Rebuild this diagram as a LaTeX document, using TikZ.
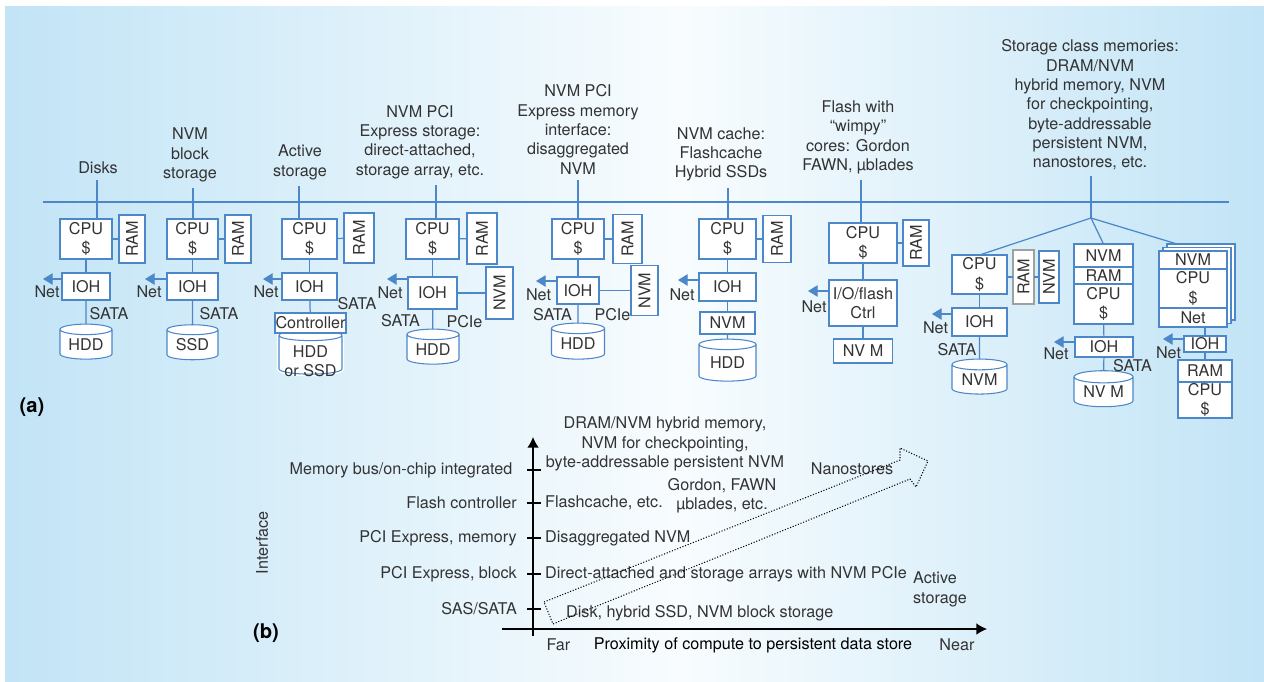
\documentclass[tikz,border=0pt]{standalone}
\usepackage{fontspec}
\setmainfont{TeX Gyre Heros}
\usepackage{graphicx}
\definecolor{LineBlue}{HTML}{4C87C9}
\definecolor{BgBlue}{HTML}{C2E4F6}
\definecolor{BgWhite}{HTML}{F8FCFE}
\definecolor{TextGray}{HTML}{333333}
\definecolor{BoxGray}{HTML}{A0A0A0}
\usetikzlibrary{arrows.meta,positioning,shapes.geometric}

\begin{document}
\begin{tikzpicture}[x=0.02cm, y=-0.02cm, node distance=0pt,
    every node/.style={font=\fontsize{9.2}{11}\selectfont, text=TextGray, align=center},
    boxsize/.style 2 args={minimum width=#1*0.02cm, minimum height=#2*0.02cm},
    box/.style={draw=LineBlue, fill=white, line width=0.6pt, inner sep=0pt, outer sep=0pt},
    disk/.style={box, cylinder, shape border rotate=90, aspect=0.3},
    wire/.style={draw=LineBlue, line width=0.7pt},
    netarrow/.style={wire, -{Triangle[length=5.5pt, width=6.5pt]}},
    axis/.style={draw=black, line width=0.7pt, -{Latex[length=6pt, width=6.5pt]}},
    axtick/.style={draw=black, line width=0.7pt},
    partlabel/.style={font=\fontsize{11.5}{13}\selectfont\bfseries, text=black}]
    \useasboundingbox (0,0) rectangle (1264,681);
    \fill[left color=BgBlue, right color=BgWhite] (5,6) rectangle (681,681);
    \fill[left color=BgWhite, right color=BgBlue] (680,6) rectangle (1264,681);

    % shared bus
    \coordinate (busw) at (43,202);
    \coordinate (buse) at (1229,202);
    \draw[wire] (busw) -- (buse);
    \coordinate (t1) at (97,202);
    \coordinate (t2) at (193,202);
    \coordinate (t3) at (299,202);
    \coordinate (t4) at (436,202);
    \coordinate (t5) at (578,202);
    \coordinate (t6) at (728,202);
    \coordinate (t7) at (861,202);
    \coordinate (t8) at (1091,202);

    \node (lab1) at (98,168) {Disks};
    \node (lab2) at (190,155) {NVM\\block\\storage};
    \node (lab3) at (300,162.5) {Active\\storage};
    \node (lab4) at (420,142) {NVM PCI\\Express storage:\\direct-attached,\\storage array, etc.};
    \node (lab5) at (578,129.5) {NVM PCI\\Express memory\\interface:\\disaggregated\\NVM};
    \node (lab6) at (721,154.5) {NVM cache:\\Flashcache\\Hybrid SSDs};
    \node (lab7) at (858,137.5) {Flash with\\“wimpy”\\cores: Gordon\\FAWN, µblades};
    \node (lab8) at (1090,105) {Storage class memories:\\DRAM/NVM\\hybrid memory, NVM\\for checkpointing,\\byte-addressable\\persistent NVM,\\nanostores, etc.};

    % disks
    \node[box, boxsize={52}{40}] (cpu1) at (86,239) {CPU\\\$};
    \node[box, boxsize={26}{48}] (ram1) at (132,239) {\rotatebox{90}{RAM}};
    \node[box, boxsize={48}{27}] (ioh1) at (86,286.5) {IOH};
    \node[disk, boxsize={52}{35}] (hdd1) at (86,344.5) {HDD};
    \coordinate (net1) at (43,279);
    \node (netl1) at (47,292) {Net};
    \node (sata1) at (109,314) {SATA};
    \draw[wire] (lab1.south -| t1) -- (t1 |- cpu1.north);
    \draw[wire] (cpu1) -- (ram1);
    \draw[wire] (cpu1) -- (ioh1);
    \draw[wire] (ioh1) -- (hdd1);
    \draw[netarrow] (ioh1.west |- net1) -- (net1);

    % NVM block storage
    \node[box, boxsize={51}{40}] (cpu2) at (192.5,239) {CPU\\\$};
    \node[box, boxsize={26}{48}] (ram2) at (238,239) {\rotatebox{90}{RAM}};
    \node[box, boxsize={51}{27}] (ioh2) at (192.5,286.5) {IOH};
    \node[disk, boxsize={51}{35}] (ssd2) at (192.5,345) {SSD};
    \coordinate (net2) at (145,279);
    \node (netl2) at (149,292) {Net};
    \node (sata2) at (219,314) {SATA};
    \draw[wire] (lab2.south -| t2) -- (t2 |- cpu2.north);
    \draw[wire] (cpu2) -- (ram2);
    \draw[wire] (cpu2) -- (ioh2);
    \draw[wire] (ioh2) -- (ssd2);
    \draw[netarrow] (ioh2.west |- net2) -- (net2);

    % active storage
    \node[box, boxsize={55}{40}] (cpu3) at (309.5,239) {CPU\\\$};
    \node[box, boxsize={30}{50}] (ram3) at (359,238) {\rotatebox{90}{RAM}};
    \node[box, boxsize={55}{27}] (ioh3) at (309.5,286.5) {IOH};
    \node[disk, boxsize={63}{44}, preaction={draw=white, line width=2.5pt}] (disk3) at (310.5,355) {\phantom{HDD}};
    \node (disk3txt) at (310.5,361.5) {HDD\\or SSD};
    \node[box, boxsize={71}{20}] (ctrl3) at (310.5,323) {Controller};
    \coordinate (net3) at (263,279);
    \node (netl3) at (266,292) {Net};
    \node (sata3) at (357,304) {SATA};
    \draw[wire] (lab3.south -| t3) -- (t3 |- cpu3.north);
    \draw[wire] (cpu3) -- (ram3);
    \draw[wire] (cpu3) -- (ioh3);
    \draw[wire] (ioh3) -- (ctrl3);
    \draw[netarrow] (ioh3.west |- net3) -- (net3);

    % NVM PCIe storage
    \node[box, boxsize={53}{40}] (cpu4) at (432.5,239) {CPU\\\$};
    \node[box, boxsize={30}{51}] (ram4) at (482,238.5) {\rotatebox{90}{RAM}};
    \node[box, boxsize={27}{52}] (nvm4) at (499.5,293) {\rotatebox{90}{NVM}};
    \node[box, boxsize={49}{32}] (ioh4) at (432.5,293) {IOH};
    \node[disk, boxsize={52}{35}] (hdd4) at (433,349.5) {HDD};
    \coordinate (net4) at (387,279);
    \node (netl4) at (390,293) {Net};
    \node (sata4) at (400.5,321) {SATA};
    \node (pcie4) at (464.5,322) {PCIe};
    \draw[wire] (lab4.south -| t4) -- (t4 |- cpu4.north);
    \draw[wire] (cpu4) -- (ram4);
    \draw[wire] (cpu4) -- (ioh4);
    \draw[wire] (ioh4) -- (nvm4);
    \draw[wire] (ioh4) -- (hdd4);
    \draw[netarrow] (ioh4.west |- net4) -- (net4);

    % NVM PCIe memory
    \node[box, boxsize={52}{40}] (cpu5) at (578,239) {CPU\\\$};
    \node[box, boxsize={29}{49}] (ram5) at (627.5,239) {\rotatebox{90}{RAM}};
    \node[box, boxsize={27}{50}] (nvm5) at (644.5,290.5) {\rotatebox{90}{NVM}};
    \node[box, boxsize={42}{27}] (ioh5) at (578,290.5) {IOH};
    \node[disk, boxsize={53}{36}] (hdd5) at (578,344) {HDD};
    \coordinate (net5) at (536,281);
    \node (netl5) at (538.5,295) {Net};
    \node (sata5) at (552.5,315) {SATA};
    \node (pcie5) at (612.5,315) {PCIe};
    \draw[wire] (lab5.south -| t5) -- (t5 |- cpu5.north);
    \draw[wire] (cpu5) -- (ram5);
    \draw[wire] (cpu5) -- (ioh5);
    \draw[wire] (ioh5) -- (nvm5);
    \draw[wire] (ioh5) -- (hdd5);
    \draw[netarrow] (ioh5.west |- net5) -- (net5);

    % NVM cache
    \node[box, boxsize={57}{40}] (cpu6) at (727.5,239) {CPU\\\$};
    \node[box, boxsize={28}{47}] (ram6) at (777,239) {\rotatebox{90}{RAM}};
    \node[box, boxsize={57}{28}] (ioh6) at (727.5,287) {IOH};
    \node[box, boxsize={55}{22}] (nvm6) at (727.5,323) {NVM};
    \node[disk, boxsize={57}{42}] (hdd6) at (727.5,363) {HDD};
    \coordinate (net6) at (678,280);
    \node (netl6) at (682,295) {Net};
    \draw[wire] (lab6.south -| t6) -- (t6 |- cpu6.north);
    \draw[wire] (cpu6) -- (ram6);
    \draw[wire] (cpu6) -- (ioh6);
    \draw[wire] (ioh6) -- (nvm6);
    \draw[wire] (nvm6) -- (hdd6);
    \draw[netarrow] (ioh6.west |- net6) -- (net6);

    % wimpy cores
    \node[box, boxsize={68}{40}] (cpu7) at (863,243) {CPU\\\$};
    \node[box, boxsize={26}{46}] (ram7) at (916,243) {\rotatebox{90}{RAM}};
    \node[box, boxsize={68}{46}] (ctrl7) at (863,303) {I/O/flash\\Ctrl};
    \node[box, boxsize={59}{24}] (nvm7) at (863,351) {NV M};
    \coordinate (net7) at (808,291);
    \node (netl7) at (814,307) {Net};
    \draw[wire] (lab7.south -| t7) -- (t7 |- cpu7.north);
    \draw[wire] (cpu7) -- (ram7);
    \draw[wire] (cpu7) -- (ctrl7);
    \draw[wire] (ctrl7) -- (nvm7);
    \draw[netarrow] (ctrl7.west |- net7) -- (net7);

    % storage class memories
    \coordinate (b8) at (1091,218);
    \draw[wire] (lab8.south -| t8) -- (b8);
    \node[box, boxsize={55}{39}] (cpu8a) at (979.5,274.5) {CPU\\\$};
    \node[box, draw=BoxGray, boxsize={21}{54}] (ram8a) at (1023.5,277) {\rotatebox{90}{RAM}};
    \node[box, boxsize={20}{52}] (nvm8a) at (1049,277) {\rotatebox{90}{NVM}};
    \node[box, boxsize={55}{28}] (ioh8a) at (979.5,322) {IOH};
    \node[disk, boxsize={55}{35}] (cyl8a) at (979.5,379.5) {NVM};
    \coordinate (net8a) at (932,314);
    \node (netl8a) at (935.5,328) {Net};
    \node (sata8a) at (957,350) {SATA};
    \draw[wire] (b8) -- (cpu8a.north);
    \draw[wire] (cpu8a.east |- ram8a) -- (ram8a);
    \draw[wire] (ram8a) -- (nvm8a);
    \draw[wire] (cpu8a) -- (ioh8a);
    \draw[wire] (ioh8a) -- (cyl8a);
    \draw[netarrow] (ioh8a.west |- net8a) -- (net8a);

    \node[box, boxsize={59}{23}] (nvm8b) at (1103.5,255.5) {NVM};
    \node[box, boxsize={59}{17}, below=of nvm8b] (ram8b) {RAM};
    \node[box, boxsize={59}{40}, below=of ram8b] (cpu8b) {CPU\\\$};
    \node[box, boxsize={58}{20}] (ioh8b) at (1104,347) {IOH};
    \node[disk, boxsize={59}{36}] (cyl8b) at (1103.5,392) {NV M};
    \coordinate (net8b) at (1054,342);
    \node (netl8b) at (1056,354) {Net};
    \node (sata8b) at (1132.5,366) {SATA};
    \draw[wire] (b8) -- (nvm8b.north);
    \draw[wire] (cpu8b) -- (ioh8b);
    \draw[wire] (ioh8b) -- (cyl8b);
    \draw[netarrow] (ioh8b.west |- net8b) -- (net8b);

    \node[box, boxsize={68}{76}] (page3) at (1201,282) {};
    \node[box, boxsize={68}{76}] (page2) at (1197,285.5) {};
    \node[box, boxsize={68}{18}] (nvm8c) at (1193,260) {NVM};
    \node[box, boxsize={68}{39}, below=of nvm8c] (cpu8c) {CPU\\\$};
    \node[box, boxsize={68}{19}, below=of cpu8c] (netb8c) {Net};
    \node[box, boxsize={42}{16}] (ioh8c) at (1205,344) {IOH};
    \node[box, boxsize={54}{22}] (ram8c) at (1205,371) {RAM};
    \node[box, boxsize={54}{36}, below=of ram8c] (cpu8d) {CPU\\\$};
    \coordinate (net8c) at (1163,339);
    \node (netl8c) at (1168.5,353) {Net};
    \draw[wire] (b8) -- ([xshift=0.2cm]page3.north west);
    \draw[wire] (ioh8c |- netb8c.south) -- (ioh8c);
    \draw[wire] (ioh8c) -- (ram8c);
    \draw[netarrow] (ioh8c.west |- net8c) -- (net8c);

    \node[partlabel] (parta) at (32,407) {(a)};

    % (b) interface vs proximity
    \coordinate (ybot) at (533,636);
    \coordinate (ytop) at (533,437);
    \coordinate (xleft) at (502,629);
    \coordinate (xright) at (987,629);
    \draw[axis] (ybot) -- (ytop);
    \draw[axis] (xleft) -- (xright);
    \foreach \y in {470,503,538,574,609}
        \draw[axtick] (527,\y) -- (541,\y);
    \node[anchor=east] (ifmem) at (518.5,470) {Memory bus/on-chip integrated};
    \node[anchor=east] (ifflash) at (523,503) {Flash controller};
    \node[anchor=east] (ifpcim) at (523,538) {PCI Express, memory};
    \node[anchor=east] (ifpcib) at (523,574) {PCI Express, block};
    \node[anchor=east] (ifsata) at (523,609) {SAS/SATA};
    \node[anchor=west] (exflash) at (539,503) {Flashcache, etc.};
    \node[anchor=west] (exdisagg) at (539,538) {Disaggregated NVM};
    \node[anchor=west] (exdirect) at (539,574) {Direct-attached and storage arrays with NVM PCIe};
    \node[anchor=west] (exdisk) at (560,613) {Disk, hybrid SSD, NVM block storage};
    \node (exhybrid) at (665,444) {DRAM/NVM hybrid memory,\\NVM for checkpointing,\\byte-addressable persistent NVM};
    \node (exgordon) at (722,495.5) {Gordon, FAWN\\µblades, etc.};
    \node (exnano) at (852,469) {Nanostores};
    \node[anchor=west, align=left] (exactive) at (907,589.5) {Active\\storage};
    \draw[densely dotted, line width=0.6pt] (544,602) -- (900,460) -- (900,448) -- (928,461) -- (916,487) -- (910,479) -- (560,621) -- (553,624) -- cycle;
    \node (far) at (558.5,645) {Far};
    \node[text=black] (prox) at (753,645) {Proximity of compute to persistent data store};
    \node (near) at (957,645) {Near};
    \node[rotate=90] (iface) at (262,543) {Interface};
    \node[partlabel] (partb) at (266,633) {(b)};
\end{tikzpicture}
\end{document}
